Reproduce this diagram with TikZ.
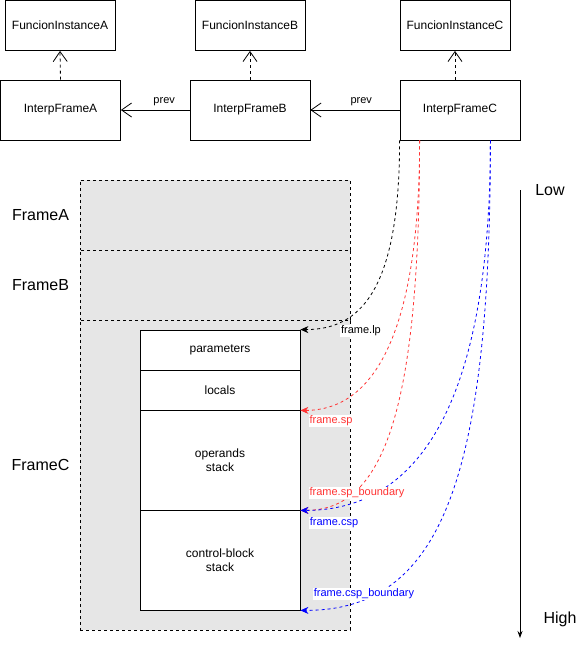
\documentclass[tikz,border=0pt]{standalone}
\usepackage{fontspec}
\setmainfont{Liberation Sans}
\usetikzlibrary{positioning, arrows.meta, calc}
\definecolor{spred}{HTML}{FF3333}
\definecolor{cspblue}{HTML}{0000FF}
\definecolor{framegray}{HTML}{E6E6E6}

\begin{document}
\begin{tikzpicture}[x=1pt, y=-1pt,
    box/.style={draw, line width=0.8pt, minimum height=50pt, font=\fontsize{12}{14}\selectfont},
    framebox/.style={draw, fill=framegray, line width=0.7pt, dash pattern=on 3pt off 3pt, minimum width=270pt},
    cell/.style={draw, fill=white, line width=0.8pt, minimum width=160pt, align=center, font=\fontsize{12}{14}\selectfont},
    framelabel/.style={font=\fontsize{16}{18}\selectfont},
    ptrlabel/.style={fill=white, inner sep=1pt, font=\fontsize{11}{13}\selectfont},
    openarrow/.style={line width=0.8pt, -{Straight Barb[length=10pt, width=14pt]}},
    ptrline/.style={line width=0.8pt, dash pattern=on 3pt off 3pt, -{Stealth[length=8pt, width=7pt, inset=2.5pt]}}]
  \useasboundingbox (0,0) rectangle (581,649);

  \node[box, minimum width=110pt] (funcA) at (60,25.5) {FuncionInstanceA};
  \node[box, minimum width=110pt] (funcB) at (250,25.5) {FuncionInstanceB};
  \node[box, minimum width=110pt] (funcC) at (455,25.5) {FuncionInstanceC};

  \node[box, minimum width=120pt, minimum height=60pt] (interpA) at (60.5,110) {InterpFrameA};
  \node[box, minimum width=120pt, minimum height=60pt] (interpB) at (250,110) {InterpFrameB};
  \node[box, minimum width=120pt, minimum height=60pt] (interpC) at (460,110) {InterpFrameC};

  \draw[openarrow, dash pattern=on 3pt off 3pt] (interpA.north) -- (funcA.south);
  \draw[openarrow, dash pattern=on 3pt off 3pt] (interpB.north) -- (funcB.south);
  \draw[openarrow, dash pattern=on 3pt off 3pt] (funcC.south |- interpC.north) -- (funcC.south);

  \draw[openarrow] (interpB.west) -- node[pos=0.37, above, font=\fontsize{11}{13}\selectfont] {prev} (interpA.east);
  \draw[openarrow] (interpC.west) -- node[pos=0.43, above, font=\fontsize{11}{13}\selectfont] {prev} (interpB.east);

  \node[framebox, minimum height=70pt] (frameA) at (215,215) {};
  \node[framebox, minimum height=70pt] (frameB) at (215,285) {};
  \node[framebox, minimum height=310pt] (frameC) at (215,475) {};
  \node[framelabel] (labelA) at (40.5,215) {FrameA};
  \node[framelabel] (labelB) at (40.5,285) {FrameB};
  \node[framelabel] (labelC) at (40.5,465) {FrameC};

  \node[cell, minimum height=40pt] (params) at (220,350) {parameters};
  \node[cell, minimum height=40pt] (locals) at (220,390) {locals};
  \node[cell, minimum height=100pt] (operands) at (220,460) {operands\\stack};
  \node[cell, minimum height=100pt] (ctrl) at (220,560) {control-block\\stack};

  \draw[ptrline] (interpC.south west) .. controls +(0,150) and +(60,0) .. (params.north east);
  \draw[ptrline, spred] ([xshift=20pt]interpC.south west) .. controls +(0,200) and +(70,0) .. (locals.south east);
  \draw[ptrline, spred] ([xshift=20pt]interpC.south west) .. controls +(0,280) and +(80,0) .. (operands.south east);
  \draw[ptrline, cspblue] ([xshift=-30pt]interpC.south east) .. controls +(0,260) and +(120,0) .. (operands.south east);
  \draw[ptrline, cspblue] ([xshift=-30pt]interpC.south east) .. controls +(0,340) and +(140,0) .. (ctrl.south east);

  \node[ptrlabel] (lp) at (361,331) {frame.lp};
  \node[ptrlabel, text=spred] (sp) at (331,421) {frame.sp};
  \node[ptrlabel, text=spred] (spb) at (357,493) {frame.sp\_boundary};
  \node[ptrlabel, text=cspblue] (csp) at (334,523) {frame.csp};
  \node[ptrlabel, text=cspblue] (cspb) at (364,594) {frame.csp\_boundary};

  \coordinate (low) at (520,190);
  \coordinate (high) at (520,638);
  \draw[line width=0.8pt, -{Stealth[length=7pt, width=5pt]}] (low) -- (high);
  \node[framelabel] (lowlabel) at (550,190) {Low};
  \node[framelabel] (highlabel) at (560,619) {High};
\end{tikzpicture}
\end{document}
